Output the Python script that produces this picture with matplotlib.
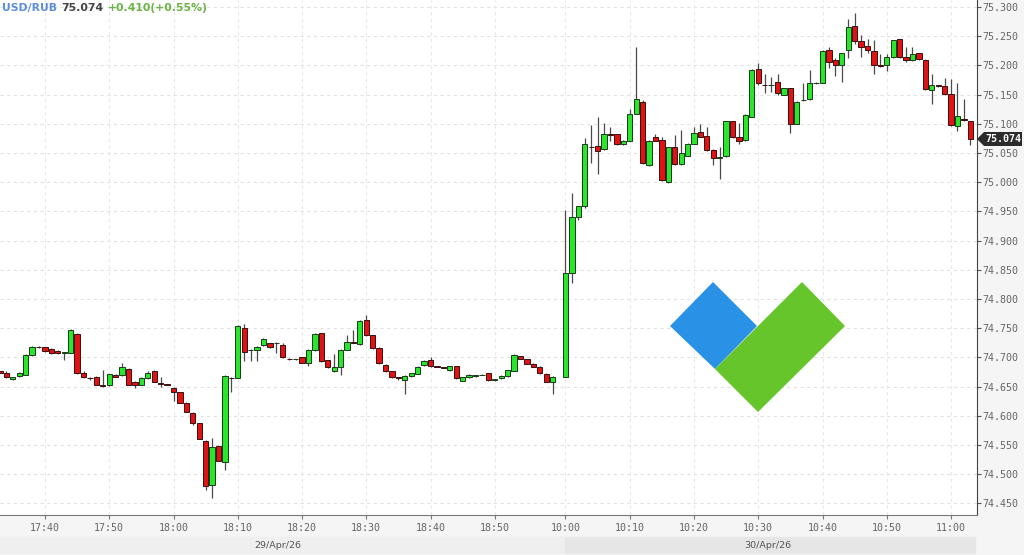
import matplotlib
matplotlib.use("Agg")
import matplotlib.pyplot as plt
from matplotlib.patches import Polygon, Rectangle

# ---------------- data ----------------
symbol = "USD/RUB"
last_price = "75.074"
change_text = "+0.410(+0.55%)"

s1_times = [f"17:{m:02d}" for m in range(33, 60)] + [f"18:{m:02d}" for m in range(60)]
s1_open = [74.676, 74.674, 74.663, 74.668, 74.670, 74.704, 74.718, 74.717, 74.714, 74.711,
           74.708, 74.708, 74.740, 74.674, 74.665, 74.667, 74.652, 74.652, 74.670, 74.669,
           74.680, 74.658, 74.653, 74.664, 74.677, 74.656, 74.655,
           74.648, 74.640, 74.622, 74.604, 74.587, 74.557, 74.481, 74.548, 74.521, 74.665,
           74.665, 74.750, 74.712, 74.713, 74.721, 74.724, 74.724, 74.722, 74.698, 74.697,
           74.700, 74.690, 74.712, 74.741, 74.695, 74.676, 74.684, 74.713, 74.726, 74.723,
           74.764, 74.738, 74.716, 74.687, 74.676, 74.666, 74.662, 74.668, 74.672, 74.687,
           74.696, 74.685, 74.683, 74.678, 74.685, 74.660, 74.666, 74.668, 74.670, 74.673,
           74.662, 74.664, 74.668, 74.677, 74.702, 74.697, 74.689, 74.684, 74.672, 74.657]
s1_high = [74.677, 74.676, 74.667, 74.675, 74.705, 74.719, 74.719, 74.718, 74.716, 74.712,
           74.709, 74.749, 74.741, 74.676, 74.666, 74.668, 74.679, 74.672, 74.671, 74.690,
           74.681, 74.659, 74.666, 74.677, 74.679, 74.667, 74.655,
           74.649, 74.641, 74.623, 74.606, 74.588, 74.558, 74.562, 74.550, 74.669, 74.666,
           74.756, 74.757, 74.714, 74.719, 74.733, 74.725, 74.727, 74.724, 74.699, 74.698,
           74.701, 74.714, 74.741, 74.742, 74.696, 74.706, 74.714, 74.738, 74.747, 74.764,
           74.773, 74.739, 74.717, 74.688, 74.677, 74.667, 74.669, 74.674, 74.685, 74.695,
           74.700, 74.686, 74.684, 74.686, 74.686, 74.667, 74.671, 74.670, 74.671, 74.674,
           74.663, 74.669, 74.679, 74.705, 74.703, 74.698, 74.690, 74.685, 74.673, 74.668]
s1_low = [74.673, 74.665, 74.661, 74.667, 74.669, 74.703, 74.716, 74.710, 74.706, 74.706,
          74.695, 74.707, 74.672, 74.665, 74.662, 74.652, 74.650, 74.651, 74.666, 74.668,
          74.652, 74.647, 74.652, 74.663, 74.657, 74.650, 74.652,
          74.626, 74.621, 74.606, 74.584, 74.560, 74.473, 74.459, 74.522, 74.507, 74.641,
          74.664, 74.693, 74.693, 74.693, 74.720, 74.716, 74.707, 74.699, 74.696, 74.695,
          74.690, 74.685, 74.711, 74.692, 74.682, 74.675, 74.670, 74.712, 74.724, 74.722,
          74.737, 74.715, 74.689, 74.675, 74.665, 74.661, 74.638, 74.667, 74.671, 74.686,
          74.684, 74.683, 74.681, 74.677, 74.663, 74.659, 74.665, 74.667, 74.669, 74.660,
          74.660, 74.663, 74.667, 74.676, 74.697, 74.688, 74.683, 74.672, 74.657, 74.637]
s1_close = [74.674, 74.666, 74.666, 74.674, 74.704, 74.718, 74.717, 74.711, 74.707, 74.707,
            74.708, 74.747, 74.673, 74.667, 74.664, 74.653, 74.651, 74.671, 74.667, 74.684,
            74.653, 74.653, 74.664, 74.674, 74.658, 74.655, 74.653,
            74.641, 74.622, 74.607, 74.588, 74.561, 74.479, 74.547, 74.523, 74.668, 74.664,
            74.754, 74.710, 74.713, 74.718, 74.731, 74.717, 74.725, 74.700, 74.697, 74.697,
            74.691, 74.713, 74.740, 74.693, 74.684, 74.684, 74.713, 74.727, 74.725, 74.763,
            74.738, 74.716, 74.690, 74.676, 74.666, 74.665, 74.668, 74.673, 74.684, 74.694,
            74.685, 74.684, 74.682, 74.685, 74.664, 74.666, 74.670, 74.669, 74.670, 74.661,
            74.662, 74.668, 74.678, 74.704, 74.698, 74.689, 74.684, 74.673, 74.658, 74.667]

s2_times = [f"10:{m:02d}" for m in range(60)] + [f"11:{m:02d}" for m in range(4)]
s2_open = [74.667, 74.844, 74.941, 74.959, 75.061, 75.062, 75.056, 75.082, 75.082, 75.065,
           75.071, 75.117, 75.137, 75.030, 75.077, 75.073, 75.000, 75.061, 75.031, 75.045,
           75.066, 75.086, 75.079, 75.055, 75.041, 75.044, 75.104, 75.078, 75.072, 75.112,
           75.194, 75.167, 75.166, 75.172, 75.150, 75.161, 75.100, 75.140, 75.142, 75.169,
           75.170, 75.226, 75.210, 75.201, 75.226, 75.267, 75.241, 75.233, 75.225, 75.200,
           75.200, 75.214, 75.245, 75.214, 75.209, 75.221, 75.210, 75.158, 75.166, 75.165,
           75.151, 75.097, 75.108, 75.104]
s2_high = [74.952, 74.982, 74.960, 75.075, 75.098, 75.112, 75.101, 75.094, 75.083, 75.072,
           75.126, 75.231, 75.140, 75.072, 75.083, 75.078, 75.061, 75.081, 75.089, 75.067,
           75.094, 75.100, 75.094, 75.056, 75.060, 75.105, 75.105, 75.101, 75.116, 75.193,
           75.204, 75.186, 75.180, 75.186, 75.162, 75.162, 75.139, 75.169, 75.192, 75.171,
           75.226, 75.232, 75.212, 75.222, 75.279, 75.290, 75.252, 75.245, 75.243, 75.220,
           75.220, 75.244, 75.246, 75.232, 75.232, 75.222, 75.211, 75.186, 75.167, 75.178,
           75.177, 75.170, 75.142, 75.105]
s2_low = [74.666, 74.827, 74.935, 74.956, 75.032, 75.014, 75.055, 75.071, 75.064, 75.063,
          75.070, 75.116, 75.031, 75.028, 75.070, 75.002, 74.999, 75.030, 75.030, 75.044,
          75.065, 75.077, 75.054, 75.029, 75.005, 75.043, 75.076, 75.066, 75.071, 75.111,
          75.166, 75.152, 75.155, 75.150, 75.149, 75.084, 75.099, 75.139, 75.141, 75.168,
          75.169, 75.195, 75.181, 75.172, 75.212, 75.236, 75.215, 75.222, 75.185, 75.197,
          75.191, 75.213, 75.213, 75.206, 75.208, 75.210, 75.158, 75.134, 75.163, 75.150,
          75.097, 75.088, 75.104, 75.064]
s2_close = [74.844, 74.941, 74.959, 75.066, 75.060, 75.054, 75.082, 75.081, 75.065, 75.071,
            75.117, 75.142, 75.032, 75.071, 75.071, 75.003, 75.060, 75.031, 75.050, 75.066,
            75.085, 75.078, 75.055, 75.041, 75.043, 75.104, 75.077, 75.070, 75.115, 75.192,
            75.170, 75.166, 75.166, 75.152, 75.161, 75.100, 75.138, 75.141, 75.169, 75.170,
            75.225, 75.205, 75.201, 75.221, 75.266, 75.242, 75.232, 75.226, 75.201, 75.199,
            75.215, 75.243, 75.214, 75.209, 75.220, 75.211, 75.159, 75.166, 75.164, 75.151,
            75.098, 75.113, 75.107, 75.074]

x_tick_labels = ["17:40", "17:50", "18:00", "18:10", "18:20", "18:30", "18:40", "18:50",
                 "10:00", "10:10", "10:20", "10:30", "10:40", "10:50", "11:00"]
y_ticks = [74.45, 74.50, 74.55, 74.60, 74.65, 74.70, 74.75, 74.80, 74.85, 74.90,
           74.95, 75.00, 75.05, 75.10, 75.15, 75.20, 75.25, 75.30]
date_labels = ["29/Apr/26", "30/Apr/26"]

# ---------------- positions (session gap of one slot) ----------------
times = s1_times + s2_times
opens = s1_open + s2_open
highs = s1_high + s2_high
lows = s1_low + s2_low
closes = s1_close + s2_close
pos = list(range(len(s1_times))) + [len(s1_times) + 1 + i for i in range(len(s2_times))]
pos_of = dict(zip(times, pos))

W, H = 1024, 555
fig = plt.figure(figsize=(W / 100, H / 100), dpi=100, facecolor="#f5f5f5")

def fx(px):
    return px / W

def fy(py):
    return 1 - py / H

ax = fig.add_axes([0, fy(515), fx(977), 515 / H])
ax.set_facecolor("white")
ax.set_xlim(0, 152.04)
ax.set_ylim(74.430, 75.312)

# grid
for v in y_ticks:
    ax.axhline(v, color="#e2e2e2", lw=0.8, ls=(0, (3, 3)), zorder=0)
for lab in x_tick_labels:
    ax.axvline(pos_of[lab], color="#e8e8e8", lw=0.8, ls=(0, (3, 3)), zorder=0)

# candles
bw = 0.82
for p, o, h, l, c in zip(pos, opens, highs, lows, closes):
    ax.vlines(p, l, h, color="#4a4a4a", lw=0.9, zorder=2)
    up = c >= o
    bottom = min(o, c)
    height = max(abs(c - o), 0.0004)
    ax.bar(p, height, width=bw, bottom=bottom,
           color="#2ae62a" if up else "#e01212",
           edgecolor="#1a3a1a" if up else "#3a1010", linewidth=0.7, zorder=3)

# axes styling
for s in ["left", "top"]:
    ax.spines[s].set_visible(False)
ax.spines["right"].set_color("#444444")
ax.spines["bottom"].set_color("#777777")
ax.yaxis.tick_right()
ax.set_yticks(y_ticks)
ax.set_yticklabels([f"{v:.3f}" for v in y_ticks])
ax.set_xticks([pos_of[t] for t in x_tick_labels])
ax.set_xticklabels(x_tick_labels)
ax.tick_params(axis="y", direction="out", length=3, width=0.8, color="#555555",
               labelsize=7.2, labelcolor="#666666", pad=1)
ax.tick_params(axis="x", direction="out", length=3, width=0.8, color="#777777",
               labelsize=7.2, labelcolor="#666666", pad=3)
for t in ax.get_yticklabels() + ax.get_xticklabels():
    t.set_family("DejaVu Sans Mono")

# date band
fig.patches.append(Rectangle((0, fy(553)), fx(565), (553 - 537) / H,
                             transform=fig.transFigure, color="#efefef", zorder=0))
fig.patches.append(Rectangle((fx(565), fy(553)), fx(975 - 565), (553 - 537) / H,
                             transform=fig.transFigure, color="#e6e6e6", zorder=0))
fig.text(fx(278), fy(545), date_labels[0], ha="center", va="center",
         fontsize=6.8, color="#555555")
fig.text(fx(768), fy(545), date_labels[1], ha="center", va="center",
         fontsize=6.8, color="#555555")

# last price tag
tag_y = 139
tag = Polygon([(fx(977), fy(tag_y)), (fx(984), fy(tag_y - 7)), (fx(1022), fy(tag_y - 7)),
               (fx(1022), fy(tag_y + 7)), (fx(984), fy(tag_y + 7))],
              closed=True, transform=fig.transFigure, facecolor="#2b2b2b",
              edgecolor="none", zorder=5)
fig.patches.append(tag)
fig.text(fx(1003), fy(tag_y), last_price, ha="center", va="center", fontsize=7.2,
         color="white", weight="bold", family="DejaVu Sans Mono", zorder=6)

# title
t1 = fig.text(fx(2), fy(11), symbol, fontsize=7.8, weight="bold", color="#5b8fdc",
              va="baseline")
t2 = ax.annotate(last_price, xy=(1, 0), xycoords=t1, xytext=(3, 0),
                 textcoords="offset points", fontsize=7.8, weight="bold",
                 color="#444444", va="bottom")
t3 = ax.annotate(change_text, xy=(1, 0), xycoords=t2, xytext=(3, 0),
                 textcoords="offset points", fontsize=7.8, weight="bold",
                 color="#6bb345", va="bottom")

# logo
blue = Polygon([(fx(670), fy(326)), (fx(713), fy(282)), (fx(757), fy(326)), (fx(715), fy(369))],
               closed=True, transform=fig.transFigure, facecolor="#2a92e6", edgecolor="none",
               zorder=4)
green = Polygon([(fx(715), fy(369)), (fx(802), fy(282)), (fx(845), fy(326)), (fx(758), fy(412))],
                closed=True, transform=fig.transFigure, facecolor="#65c52a", edgecolor="none",
                zorder=4)
fig.patches.append(blue)
fig.patches.append(green)

fig.savefig("out.png", dpi=100, facecolor=fig.get_facecolor())
